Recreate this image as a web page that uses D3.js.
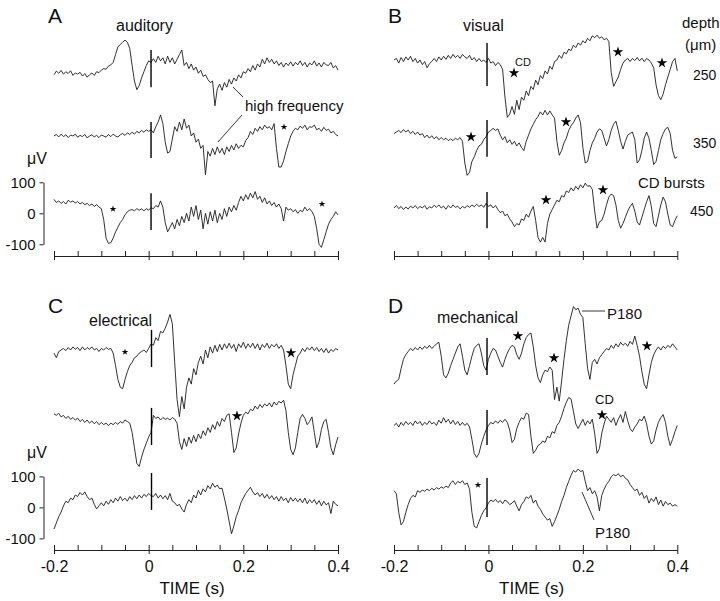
<!DOCTYPE html>
<html><head><meta charset="utf-8">
<script src="https://cdn.jsdelivr.net/npm/d3@7"></script>
<style>body{margin:0;background:#fff}svg text{font-family:Arial,"Liberation Sans",Helvetica,sans-serif;fill:#111}</style>
</head><body><svg id="c" width="720" height="601"></svg>
<script>
// ---- sampling grid (s) ----
const timeStart = -0.2, timeStep = 0.005;
const xTicksMajor = [-0.2, 0, 0.2, 0.4];
const xTicksMinor = [-0.2,-0.15,-0.1,-0.05,0,0.05,0.1,0.15,0.2,0.25,0.3,0.35,0.4];
const yTicks = [-100, 0, 100];

// ---- traces (µV, 5 ms steps from -0.2 s) ----
const aTop = [-10,2,-5,4,-8,0,-6,3,-12,-4,-8,-2,-14,-6,-18,-10,-4,-12,0,-3,
 5,10,8,18,22,30,55,80,88,95,102,95,75,20,-30,-58,-45,-20,0,20,35,30,
 42,30,50,35,45,25,50,30,45,25,40,55,70,20,30,10,25,5,15,
 -5,5,-15,-10,-25,-35,-30,-110,-55,-40,-60,-35,-50,-25,-40,-20,-30,-10,-20,0,
 -5,10,0,20,5,25,15,40,25,45,30,40,25,35,20,30,15,28,20,32,
 18,30,22,35,20,30,15,28,22,35,18,28,15,30,22,20,30,12,20,5];
const aMid = [0,5,-3,6,-2,4,-5,3,0,6,-4,2,-2,5,-6,0,4,-3,2,-5,3,0,-4,5,-2,6,0,-3,4,8,2,10,5,12,6,15,10,18,12,20,
 15,20,10,30,45,68,40,-20,-55,-50,-10,30,15,45,20,55,25,35,0,10,-20,
 -10,-40,-30,-125,-50,-65,-40,-60,-35,-55,-40,-60,-35,-50,-30,-45,-25,-40,-30,-35,
 -15,-5,15,5,25,15,30,20,35,25,30,20,40,-40,-100,-100,-80,-50,-25,0,
 15,25,20,32,25,35,20,30,28,35,20,25,15,28,18,22,10,15,5,0];
const aBot = [45,35,40,32,38,30,42,36,40,33,38,30,35,28,32,25,30,22,28,20,
 15,-20,-80,-97,-95,-80,-60,-45,-30,-20,-5,5,10,12,8,15,10,14,8,15,10,18,
 15,25,20,40,20,-30,-60,-45,-30,-50,-20,-40,-10,-30,0,-25,20,-10,25,
 -20,10,-50,0,-35,5,-25,10,-30,0,-20,15,-10,20,5,25,10,35,55,40,
 60,45,65,50,70,45,55,35,50,30,40,25,35,20,30,15,-25,20,10,15,
 5,12,0,10,5,20,8,15,5,-10,-50,-100,-110,-85,-60,-35,-20,-10,5,-5];
const bTop = [0,5,-10,8,-5,10,0,12,-5,5,-10,0,-15,-5,-25,-12,-5,5,-5,10,
 0,12,2,15,5,18,8,15,5,18,10,5,15,0,8,-5,5,-5,0,-8,
 5,-10,-5,-18,-8,-15,-30,-120,-185,-175,-150,-175,-130,-160,-120,-130,-100,-115,-85,-95,
 -65,-80,-50,-60,-35,-45,-20,-30,-5,0,15,5,25,20,35,30,48,40,55,48,
 62,55,70,62,78,72,80,70,75,65,70,60,-40,-85,-70,-55,-30,-10,0,5,
 -5,5,-2,8,-3,6,-5,5,0,-10,-25,-80,-115,-128,-110,-80,-55,-30,-5,5,-35];
const bMid = [-5,0,5,-2,8,0,6,-5,2,-8,0,-10,-5,-18,-10,-20,-12,-22,-15,-25,
 -18,-25,-20,-28,-22,-28,-20,-25,-18,-30,-100,-140,-130,-95,-80,-60,-45,-40,-25,-15,
 0,5,12,5,10,-10,-25,-15,-35,-25,-40,-30,-45,-35,-50,-60,-30,-10,10,25,
 40,50,65,55,70,55,68,55,45,-30,-75,-60,-35,-20,5,20,30,45,55,30,
 -50,-100,-95,-60,-35,-20,0,10,5,-20,-45,-25,5,25,35,5,-30,-55,-30,-10,
 -5,0,-25,-100,-90,-60,-20,0,-20,-60,-105,-95,-60,-25,-5,10,15,-5,-60,-85,-80];
const bBot = [0,8,-2,5,-5,3,-3,6,0,8,-2,5,0,8,-4,4,0,9,2,10,
 0,6,-4,8,0,10,2,6,-3,5,0,8,2,10,4,12,5,10,2,15,
 5,10,0,8,-5,-15,-10,-25,-20,-35,-45,-60,-50,-55,-35,-40,-20,-30,-10,5,
 -40,-95,-110,-95,-110,-50,-20,-5,10,25,20,40,35,55,50,65,55,70,60,75,
 65,80,70,72,60,-10,-65,-45,-40,-20,10,35,45,40,10,-40,-65,-50,-30,-10,
 5,15,-10,-45,-55,-30,-5,20,40,5,-50,-60,-25,10,35,20,-20,-55,-60,-40,-25];
const cTop = [-10,-25,-5,0,5,-2,8,0,10,2,8,-2,10,0,8,2,10,0,5,-5,
 5,0,8,2,5,-10,-50,-95,-120,-125,-95,-70,-50,-40,-25,-20,-10,-5,0,-8,
 5,20,15,40,30,60,55,70,90,115,85,-40,-160,-215,-150,-190,-120,-90,-110,-60,
 -80,-40,-20,-45,0,-25,10,-10,15,-5,18,0,20,5,22,5,18,-5,20,8,
 25,5,20,8,22,5,20,0,18,8,22,5,18,10,20,5,15,0,-50,-110,
 -125,-80,-50,-20,-10,5,-5,8,0,10,-2,8,-5,5,-8,5,-10,2,-5,5,0];
const cMid = [20,15,22,10,15,5,12,2,8,0,6,-5,2,-8,0,-10,-3,-12,-5,-15,
 -8,-15,-10,-18,-10,-15,-8,-14,-5,-10,0,-5,-10,-40,-90,-140,-150,-120,-95,-75,
 -55,-40,15,5,10,0,8,2,6,0,8,3,-10,-70,-95,-60,-85,-55,-75,-50,
 -70,-45,-60,-35,-50,-25,-40,-15,-30,-5,-20,5,-5,15,20,-40,-105,-90,-45,-10,
 15,25,20,35,30,45,35,50,40,52,45,55,42,58,48,60,55,64,30,-40,
 -95,-112,-90,-40,5,18,5,-15,-5,10,-40,-90,-70,-30,-5,2,-40,-90,-112,-80,-55];
const cBot = [-70,-50,-30,-15,5,20,15,30,25,40,35,48,40,50,35,25,30,10,-5,5,
 15,5,20,10,25,15,30,20,35,22,30,20,35,25,38,28,40,30,42,35,
 45,38,35,45,30,40,28,38,25,45,20,15,5,10,-5,-15,10,25,15,40,
 30,55,40,60,50,70,60,78,65,72,60,62,30,-5,-45,-85,-60,-30,-10,15,
 30,45,55,65,50,40,48,35,45,30,42,28,38,25,35,20,35,22,30,15,
 32,20,30,18,28,15,30,12,25,15,25,10,22,5,20,8,15,-20,20,10,5];
const dTop = [-110,-100,-95,-60,-30,-15,-5,5,-2,8,0,10,2,12,5,15,5,12,20,25,
 -20,-80,-90,-75,-50,-30,-10,10,20,-20,-65,-80,-50,-20,5,15,20,-10,-50,-65,
 -30,-10,5,0,-20,-40,-55,-30,-10,5,15,10,-15,-30,-10,20,40,50,55,10,
 -50,-90,-105,-80,-65,-70,-55,-65,-160,-120,-165,-100,-30,30,80,110,140,130,135,115,
 105,20,-60,-95,-40,-30,-45,-25,-15,-5,5,0,15,5,20,10,25,15,22,12,
 28,18,45,15,-20,-70,-110,-125,-80,-40,-15,0,10,0,12,5,15,8,20,10,0];
const dMid = [5,12,0,15,5,18,8,15,5,20,10,18,5,15,8,20,10,15,5,22,
 12,30,15,25,10,22,8,18,5,15,5,12,0,-40,-85,-98,-85,-55,-30,-10,
 5,15,10,20,12,22,15,25,15,-10,-50,-40,-5,15,30,25,45,40,-30,-85,
 -75,-60,-55,-45,-50,-30,-35,-15,-20,5,15,35,60,80,95,90,50,10,-5,10,
 25,5,20,10,25,-20,-85,-70,-20,10,35,25,15,30,5,25,40,15,50,20,
 -5,-15,0,10,25,20,35,10,-30,-55,-45,-10,15,30,40,15,-30,-60,-40,-15,5];
const dBot = [30,20,-40,-80,-70,-40,-15,5,15,10,30,25,32,28,35,30,38,32,40,35,
 42,38,45,40,55,62,50,60,55,62,50,55,35,-40,-85,-90,-70,-50,-35,-25,
 -10,0,-5,2,-8,-2,-12,0,-5,-15,-10,-2,-20,-35,-15,-5,10,5,15,-10,
 0,-20,-30,-45,-55,-65,-60,-85,-70,-50,-30,-5,15,40,60,80,95,90,100,92,
 95,60,30,40,20,30,10,-35,15,35,50,60,75,82,78,85,75,80,70,65,
 50,40,30,35,15,25,5,15,-10,5,-5,10,-15,0,-20,-5,-15,-10,-20,-15,-20];

// stimulus marker time (s) and extent (µV) per trace
const stimTimes = {A:0.005, B:-0.003, C:0.006, D:-0.003};
const stimExtent = {
  A:[[70,-50],[45,-71],[65,-54]], B:[[55,-84],[39,-80],[52,-65]],
  C:[[65,-55],[39,-81],[111,-8]], D:[[39,-81],[55,-58],[71,-55]]};

// ---- layout ----
const pxPerUV = 0.31;
const panels = [
 {id:'A', x0:54, x1:338, axisY:256, zeros:[71.7,136,213.3], data:[aTop,aMid,aBot], yAxis:true, labels:false},
 {id:'B', x0:394, x1:677.3, axisY:256, zeros:[60,132,208], data:[bTop,bMid,bBot], yAxis:false, labels:false},
 {id:'C', x0:54, x1:338, axisY:550, zeros:[350,420,507.4], data:[cTop,cMid,cBot], yAxis:true, labels:true},
 {id:'D', x0:394, x1:677.3, axisY:550, zeros:[350,427,500], data:[dTop,dMid,dBot], yAxis:false, labels:true}
];

const svg = d3.select('#c');
panels.forEach(p => {
  const g = svg.append('g');
  const x = d3.scaleLinear().domain([-0.2, 0.4]).range([p.x0, p.x1]);
  p.data.forEach((vals, k) => {
    const z = p.zeros[k];
    const y = d3.scaleLinear().domain([0, 100]).range([z, z - 100*pxPerUV]);
    const line = d3.line().x((d,i) => x(timeStart + i*timeStep)).y(d => y(d));
    g.append('path').datum(vals).attr('d', line)
      .attr('fill','none').attr('stroke','#1c1c1c').attr('stroke-width',0.9).attr('stroke-linejoin','round');
    const st = stimExtent[p.id][k];
    g.append('line').attr('x1', x(stimTimes[p.id])).attr('x2', x(stimTimes[p.id]))
      .attr('y1', y(st[0])).attr('y2', y(st[1])).attr('stroke','#000').attr('stroke-width',1.4);
  });
  const ax1 = g.append('g').attr('transform',`translate(0,${p.axisY})`)
    .call(d3.axisTop(x).tickValues(xTicksMinor).tickSize(5).tickSizeOuter(0).tickFormat(''));
  const ax2 = g.append('g').attr('transform',`translate(0,${p.axisY})`)
    .call(d3.axisBottom(x).tickValues(xTicksMajor).tickSize(4).tickSizeOuter(0).tickPadding(7)
      .tickFormat(d => p.labels ? (d===0 ? '0' : String(d)) : ''));
  ax2.select('.domain').remove();
  [ax1, ax2].forEach(a => { a.selectAll('path,line').attr('stroke','#222').attr('stroke-width',1); a.selectAll('text').attr('font-size',16).attr('fill','#111').attr('font-family','Arial,"Liberation Sans",sans-serif'); });
  if (p.labels) {
    g.append('text').attr('x', (p.x0+p.x1)/2 - 4).attr('y', 594).attr('text-anchor','middle')
      .attr('font-size',17).text('TIME (s)');
  }
  if (p.yAxis) {
    const z = p.zeros[2];
    const y = d3.scaleLinear().domain([-100, 100]).range([z + 100*pxPerUV, z - 100*pxPerUV]);
    const ya = g.append('g').attr('transform','translate(43.5,0)')
      .call(d3.axisLeft(y).tickValues(yTicks).tickSize(4).tickSizeOuter(0).tickPadding(4).tickFormat(d => String(d)));
    ya.selectAll('path,line').attr('stroke','#222');
    ya.selectAll('text').attr('font-size',15).attr('fill','#111').attr('font-family','Arial,"Liberation Sans",sans-serif');
    g.append('text').attr('x',27).attr('y', z - 49).attr('font-size',16).text('\u03bcV');
  }
  g.append('text').attr('x', p.x0 - 6).attr('y', p.axisY === 256 ? 23 : 313).attr('font-size',21).text(p.id);
});

// ---- annotations ----
const texts = [
 ['auditory',116,31,16], ['high frequency',245,111,15],
 ['visual',463,31,16], ['depth',682,28,15], ['(\u03bcm)',685,50,15],
 ['250',693,80,14], ['350',693,148,14], ['CD bursts',638,188,15], ['450',690,216,14], ['CD',515,66,11],
 ['electrical',89,326,16], ['mechanical',437,323,16], ['P180',607,319,15], ['CD',595,404,13], ['P180',595,538,15]
];
texts.forEach(t => svg.append('text').attr('x',t[1]).attr('y',t[2]).attr('font-size',t[3]).text(t[0]));
const leaders = [[233,87,243,97],[242,115,218,142],[582,311,605,311],[582,492,594,520]];
leaders.forEach(l => svg.append('line').attr('x1',l[0]).attr('y1',l[1]).attr('x2',l[2]).attr('y2',l[3])
  .attr('stroke','#222').attr('stroke-width',0.9));

const stars = [[284,127,14],[113,209,14],[322,204,14],
 [514,73,34],[618,52,34],[662,63,34],[471,137,34],[566,122,34],[546,200,34],[603,190,34],
 [125,352,14],[291,353,34],[237,416,34],
 [518,336,34],[554,358,34],[647,346,34],[602,415,34],[478,485,14]];
stars.forEach(s => svg.append('path').attr('d', d3.symbol().type(d3.symbolStar).size(s[2])())
  .attr('transform',`translate(${s[0]},${s[1]})`).attr('fill','#000'));
</script></body></html>
